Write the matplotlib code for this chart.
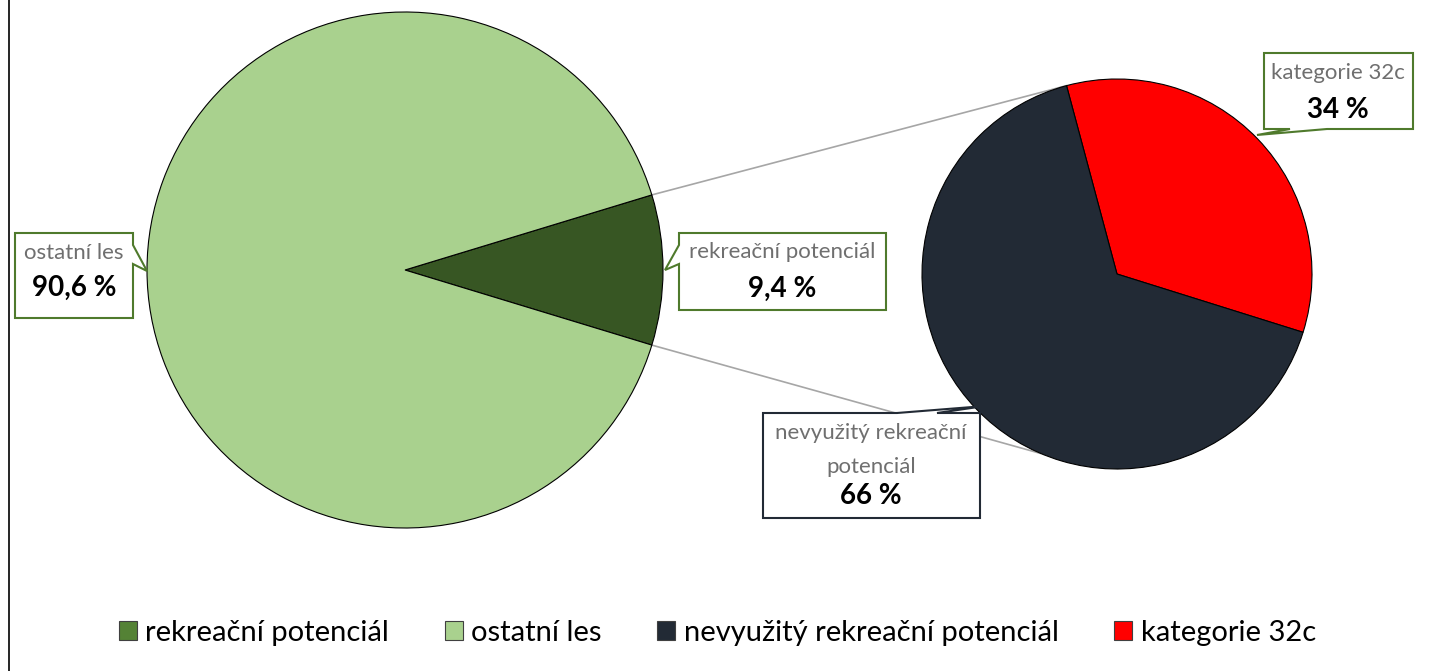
import matplotlib.pyplot as plt
from matplotlib.patches import Polygon, Patch
import numpy as np

W, H = 1435, 671

# data
main_labels = ['rekreační potenciál', 'ostatní les']
main_values = [9.4, 90.6]
main_text = ['9,4 %', '90,6 %']
sub_labels = ['kategorie 32c', 'nevyužitý rekreační potenciál']
sub_values = [34, 66]
sub_text = ['34 %', '66 %']
legend_labels = ['rekreační potenciál', 'ostatní les',
                 'nevyužitý rekreační potenciál', 'kategorie 32c']

c_rekr = '#375623'
c_rekr_leg = '#548235'
c_ost = '#a9d18e'
c_nev = '#222a35'
c_kat = '#ff0000'
edge_green = '#4f7a2c'

plt.rcParams['font.family'] = ['Lato', 'DejaVu Sans']

fig = plt.figure(figsize=(W / 100, H / 100), dpi=100)
ax = fig.add_axes([0, 0, 1, 1])


def py(y):
    # pixel row (from top) -> data y
    return H - y


# main pie
c1 = (405, py(270))
r1 = 258
half = main_values[0] * 3.6 / 2
ax.pie(main_values, colors=[c_rekr, c_ost], startangle=-half,
       center=c1, radius=r1, frame=True,
       wedgeprops=dict(edgecolor='black', linewidth=0.8))

# second pie
c2 = (1117, py(274))
r2 = 195
start2 = -17.4
ax.pie(sub_values, colors=[c_kat, c_nev], startangle=start2,
       center=c2, radius=r2, frame=True,
       wedgeprops=dict(edgecolor='black', linewidth=0.8))
ax.set_xlim(0, W)
ax.set_ylim(0, H)
ax.set_aspect('equal')
ax.axis('off')

# connector lines
top_a = np.radians(half)
bot_a = np.radians(-half)
top2 = np.radians(start2 + sub_values[0] * 3.6)
bot2 = np.radians(247)
ax.plot([c1[0] + r1 * np.cos(top_a), c2[0] + r2 * np.cos(top2)],
        [c1[1] + r1 * np.sin(top_a), c2[1] + r2 * np.sin(top2)],
        color='#a6a6a6', lw=1.2, zorder=0.5)
ax.plot([c1[0] + r1 * np.cos(bot_a), c2[0] + r2 * np.cos(bot2)],
        [c1[1] + r1 * np.sin(bot_a), c2[1] + r2 * np.sin(bot2)],
        color='#a6a6a6', lw=1.2, zorder=0.5)


def callout(x0, y0, x1, y1, side, a, b, tip, ec):
    # speech-bubble box in pixel coords (top-left x0,y0; bottom-right x1,y1)
    if side == 'right':
        pts = [(x0, y0), (x1, y0), (x1, a), tip, (x1, b), (x1, y1), (x0, y1)]
    elif side == 'left':
        pts = [(x0, y0), (x1, y0), (x1, y1), (x0, y1), (x0, b), tip, (x0, a)]
    elif side == 'top':
        pts = [(x0, y0), (a, y0), tip, (b, y0), (x1, y0), (x1, y1), (x0, y1)]
    else:
        pts = [(x0, y0), (x1, y0), (x1, y1), (b, y1), tip, (a, y1), (x0, y1)]
    pts = [(x, py(y)) for x, y in pts]
    ax.add_patch(Polygon(pts, closed=True, facecolor='white', edgecolor=ec,
                         lw=1.5, zorder=5))


def label(cx, lines_y, name, val):
    names = name if isinstance(name, list) else [name]
    for i, nm in enumerate(names):
        ax.text(cx, py(lines_y[i]), nm, ha='center', va='center',
                fontsize=16, color='#6f6f6f', zorder=6)
    ax.text(cx, py(lines_y[-1]), val, ha='center', va='center',
            fontsize=20, fontweight='bold', color='black', zorder=6)


callout(15, 233, 133, 318, 'right', 245, 264, (147, 271), edge_green)
label(74, [253, 288], main_labels[1], main_text[1])

callout(679, 233, 886, 310, 'left', 245, 264, (665, 270), edge_green)
label(782, [252, 289], main_labels[0], main_text[0])

callout(1264, 53, 1413, 129, 'bottom', 1290, 1327, (1257, 135), edge_green)
label(1338, [73, 110], sub_labels[0], sub_text[0])

callout(763, 413, 980, 518, 'top', 897, 937, (985, 406), c_nev)
label(871, [433, 467, 496], ['nevyužitý rekreační', 'potenciál'], sub_text[1])

# left border line
ax.plot([9, 9], [0, H], color='black', lw=1.2)

handles = [Patch(facecolor=c, edgecolor='#404040', lw=0.8)
           for c in [c_rekr_leg, c_ost, c_nev, c_kat]]
fig.legend(handles, legend_labels, ncol=4, frameon=False,
           loc='center', bbox_to_anchor=(0.5, 1 - 633 / H),
           fontsize=21, handlelength=0.62, handleheight=0.62,
           handletextpad=0.3, columnspacing=1.9)

fig.savefig('out.png', dpi=100)
